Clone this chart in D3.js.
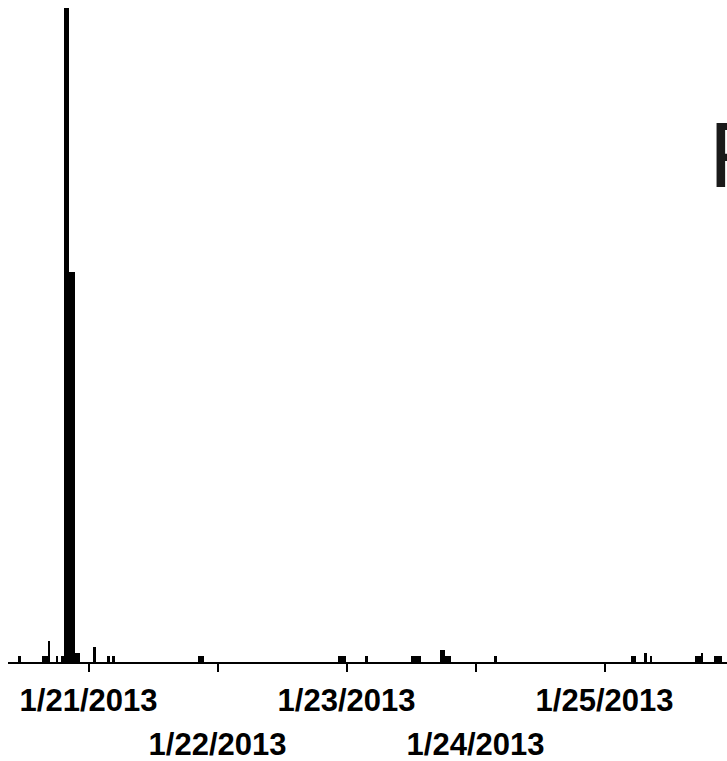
<!DOCTYPE html>
<html>
<head>
<meta charset="utf-8">
<script src="https://cdn.jsdelivr.net/npm/d3@7"></script>
<style>
  html, body { margin: 0; padding: 0; background: #fff; overflow: hidden; }
  svg { display: block; }
</style>
</head>
<body>
<div id="chart"></div>
<script>
// Half-hour bins: start time of each bin and its count
const binStarts = [
  "2013-01-20 11:00",
  "2013-01-20 15:30", "2013-01-20 16:00", "2013-01-20 16:30",
  "2013-01-20 18:00", "2013-01-20 19:00",
  "2013-01-20 19:30", "2013-01-20 20:00",
  "2013-01-20 20:30", "2013-01-20 21:00",
  "2013-01-20 21:30", "2013-01-20 22:00",
  "2013-01-21 01:00", "2013-01-21 03:30", "2013-01-21 04:30",
  "2013-01-21 20:30", "2013-01-21 21:00",
  "2013-01-22 22:30", "2013-01-22 23:00", "2013-01-22 23:30",
  "2013-01-23 03:30",
  "2013-01-23 12:00", "2013-01-23 12:30", "2013-01-23 13:00", "2013-01-23 13:30",
  "2013-01-23 17:30", "2013-01-23 18:00", "2013-01-23 18:30", "2013-01-23 19:00",
  "2013-01-24 03:30",
  "2013-01-25 05:00", "2013-01-25 05:30", "2013-01-25 07:30", "2013-01-25 08:30",
  "2013-01-25 17:00", "2013-01-25 17:30", "2013-01-25 18:00",
  "2013-01-25 20:30", "2013-01-25 21:00", "2013-01-25 21:30"
];
const binCounts = [
  2,
  2, 2, 7,
  2, 2,
  218, 218,
  130, 130,
  3, 3,
  5, 2, 2,
  2, 2,
  2, 2, 2,
  2,
  2, 2, 2, 2,
  4, 4, 2, 2,
  2,
  2, 2, 3, 2,
  2, 2, 3,
  2, 2, 2
];
const binMinutes = 30;

// Daily ticks along the time axis
const tickDates = ["2013-01-21", "2013-01-22", "2013-01-23", "2013-01-24", "2013-01-25"];
const tickLabels = ["1/21/2013", "1/22/2013", "1/23/2013", "1/24/2013", "1/25/2013"];

const W = 727, H = 761;
const parseTime = d3.timeParse("%Y-%m-%d %H:%M");
const parseDay = d3.timeParse("%Y-%m-%d");

const bins = binStarts.map((s, i) => {
  const t0 = parseTime(s);
  return { t0, t1: d3.timeMinute.offset(t0, binMinutes), count: binCounts[i] };
});
const ticks = tickDates.map(parseDay);

const svg = d3.select("#chart").append("svg")
  .attr("width", W).attr("height", H);

const x = d3.scaleTime()
  .domain([parseDay("2013-01-21"), parseDay("2013-01-26")])
  .range([88, 733]);

const baseY = 662;
const y = d3.scaleLinear()
  .domain([0, d3.max(binCounts)])
  .range([baseY, 8]);

// Bars
svg.append("g")
  .attr("shape-rendering", "crispEdges")
  .selectAll("rect")
  .data(bins)
  .join("rect")
  .attr("x", d => x(d.t0))
  .attr("width", d => Math.max(1, x(d.t1) - x(d.t0)))
  .attr("y", d => y(d.count))
  .attr("height", d => baseY - y(d.count))
  .attr("fill", "#000");

// Baseline
svg.append("line")
  .attr("x1", 8).attr("x2", W)
  .attr("y1", baseY + 1).attr("y2", baseY + 1)
  .attr("stroke", "#000").attr("stroke-width", 2)
  .attr("shape-rendering", "crispEdges");

// Axis with alternating label rows
const axis = d3.axisBottom(x)
  .tickValues(ticks)
  .tickSize(8)
  .tickSizeOuter(0)
  .tickFormat((d, i) => tickLabels[i]);

const gAxis = svg.append("g")
  .attr("transform", `translate(0,${baseY + 2})`)
  .call(axis);

gAxis.select(".domain").remove();
gAxis.selectAll(".tick line")
  .attr("stroke", "#000")
  .attr("stroke-width", 2)
  .attr("shape-rendering", "crispEdges");
gAxis.selectAll(".tick text")
  .attr("fill", "#000")
  .attr("font-family", "'Liberation Sans', Arial, sans-serif")
  .attr("font-weight", "bold")
  .attr("font-size", 31)
  .attr("dy", null)
  .attr("y", (d, i) => i % 2 === 0 ? 47 : 91);

// Large heading letter at the right edge
svg.append("text")
  .attr("x", 709)
  .attr("y", 187)
  .attr("font-family", "'Liberation Sans', Arial, sans-serif")
  .attr("font-size", 92)
  .attr("fill", "#1a1a1a")
  .text("F");
</script>
</body>
</html>
